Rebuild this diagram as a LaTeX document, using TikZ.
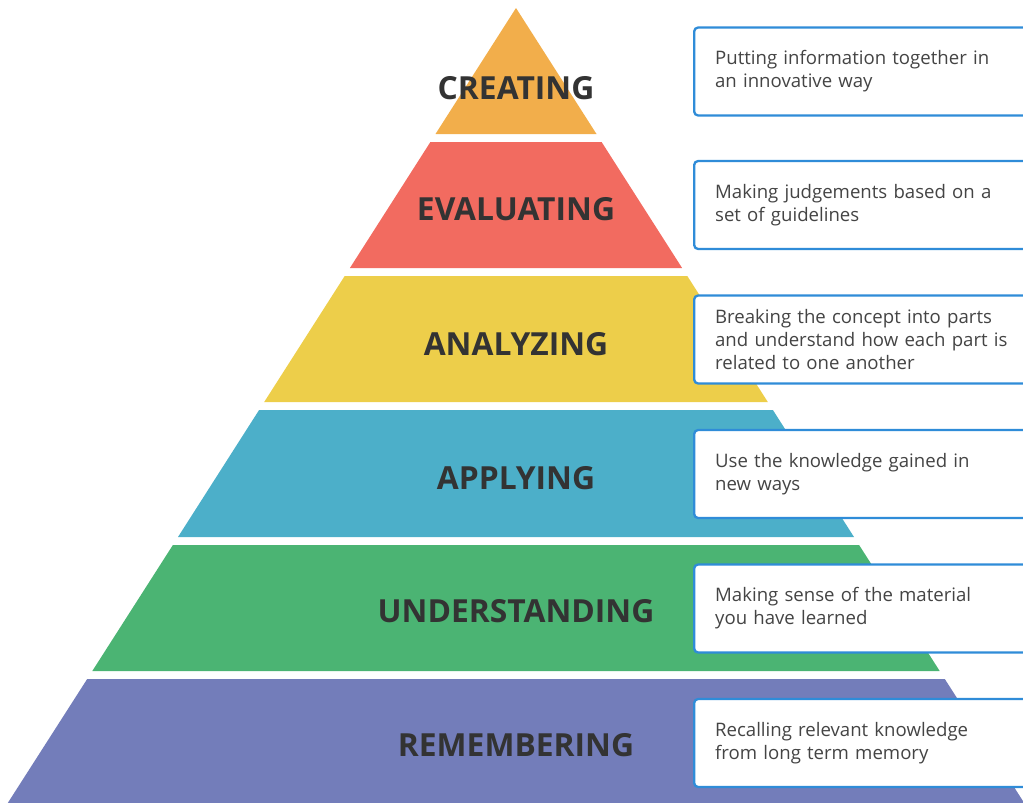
\documentclass[tikz,border=0pt]{standalone}
\usepackage{fontspec}
\setmainfont{Open Sans}
\newfontfamily\titlefont{Open Sans}
\definecolor{cCre}{HTML}{F2AE4B}
\definecolor{cEva}{HTML}{F26B60}
\definecolor{cAna}{HTML}{EDCE4A}
\definecolor{cApp}{HTML}{4CAFC9}
\definecolor{cUnd}{HTML}{4BB473}
\definecolor{cRem}{HTML}{737DBA}
\definecolor{cBorder}{HTML}{2F8CD8}
\definecolor{cTitle}{HTML}{333333}
\definecolor{cDesc}{HTML}{444444}
\tikzset{
  title/.style={font=\titlefont\bfseries\fontsize{31.8}{36}\selectfont, text=cTitle, inner sep=0pt},
  descbox/.style={draw=cBorder, line width=2.3pt, fill=white, rounded corners=4pt,
    minimum height=88pt, text width=310pt, inner xsep=21pt, inner ysep=0pt,
    align=left, anchor=west, font=\fontsize{18.6}{23}\selectfont, text=cDesc},
}
\begin{document}
\begin{tikzpicture}[x=1pt,y=-1pt]
\useasboundingbox (0,0) rectangle (1023,803);
\clip (0,0) rectangle (1023,803);
% pyramid bands
\fill[cCre] (516,8) -- (596.5,134) -- (435.5,134) -- cycle;
\fill[cEva] (430.4,142) -- (601.6,142) -- (682.1,268) -- (349.9,268) -- cycle;
\fill[cAna] (344.7,276) -- (687.3,276) -- (767.8,402) -- (264.2,402) -- cycle;
\fill[cApp] (259.1,410) -- (772.9,410) -- (854.0,537) -- (178.0,537) -- cycle;
\fill[cUnd] (172.9,545) -- (859.1,545) -- (939.7,671) -- (92.3,671) -- cycle;
\fill[cRem] (87.2,679) -- (944.8,679) -- (1030,812) -- (2,812) -- cycle;
% titles
\node[title] (tcre) at (516,88) {CREATING};
\node[title] (teva) at (516,209) {EVALUATING};
\node[title] (tana) at (516,344) {ANALYZING};
\node[title] (tapp) at (516,478) {APPLYING};
\node[title] (tund) at (516,611) {UNDERSTANDING};
\node[title] (trem) at (516,745) {REMEMBERING};
% description boxes
\node[descbox] (dcre) at (693,71.5) {Putting information together in\\an innovative way};
\node[descbox] (deva) at (693,205) {Making judgements based on a\\set of guidelines};
\node[descbox] (dana) at (693,339.5) {Breaking the concept into parts\\and understand how each part is\\related to one another};
\node[descbox] (dapp) at (693,474) {Use the knowledge gained in\\new ways};
\node[descbox] (dund) at (693,608.5) {Making sense of the material\\you have learned};
\node[descbox] (drem) at (693,743) {Recalling relevant knowledge\\from long term memory};
\end{tikzpicture}
\end{document}
